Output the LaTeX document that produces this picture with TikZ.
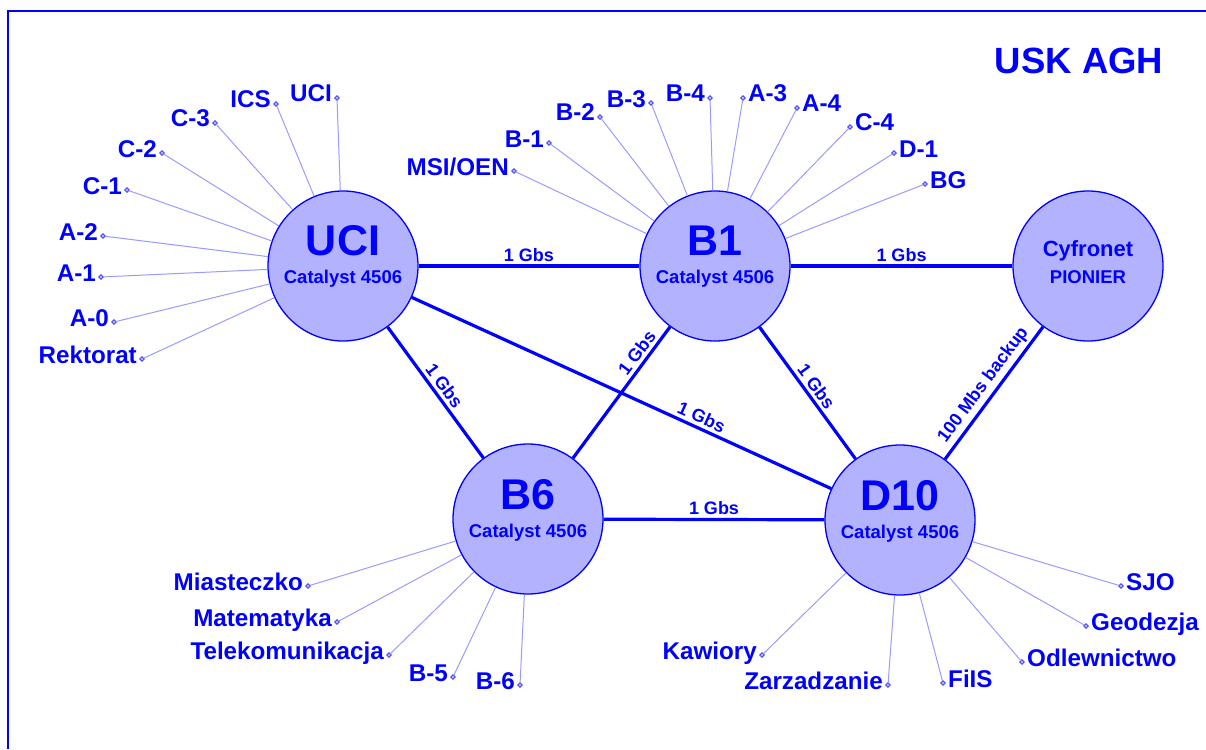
\documentclass[tikz,border=0pt]{standalone}
\usepackage{fontspec}
\setmainfont{Liberation Sans}
\usetikzlibrary{shapes.geometric}
\definecolor{ublue}{RGB}{0,0,255}
\definecolor{ufill}{RGB}{178,178,255}
\definecolor{uspoke}{RGB}{155,155,255}
\newcommand\spkL[5]{%
  \node[pin] (p#1) at (#2,#3) {};
  \node[lab,anchor=base east] (t#1) at ([xshift=-5pt,yshift=-4pt]p#1.center) {#4};
  \draw[spoke] (p#1) -- (#5);}
\newcommand\spkR[5]{%
  \node[pin] (p#1) at (#2,#3) {};
  \node[lab,anchor=base west] (t#1) at ([xshift=5pt,yshift=-4pt]p#1.center) {#4};
  \draw[spoke] (p#1) -- (#5);}
\begin{document}
\begin{tikzpicture}[x=1pt,y=-1pt,
  hub/.style={circle, draw=ublue, line width=1.3pt, fill=ufill, minimum size=150pt, inner sep=0pt},
  link/.style={draw=ublue, line width=3.2pt},
  spoke/.style={draw=uspoke, line width=1pt},
  pin/.style={diamond, draw=ublue!80, fill=ufill, line width=0.6pt, minimum size=5pt, inner sep=0pt},
  lab/.style={text=ublue, font=\fontsize{24.2}{25}\selectfont\bfseries, inner sep=0pt},
  big/.style={text=ublue, font=\fontsize{43}{43}\selectfont\bfseries, inner sep=0pt, anchor=base},
  cat/.style={text=ublue, font=\fontsize{18.5}{19}\selectfont\bfseries, inner sep=0pt, anchor=base},
  gl/.style={text=ublue, font=\fontsize{18}{18}\selectfont\bfseries, inner sep=3pt}
]
\useasboundingbox (0,0) rectangle (1206,749);
\fill[white] (0,0) rectangle (1206,749);
\draw[ublue, line width=1.5pt] (8,749) -- (8,11) -- (1206,11);

\node[text=ublue, font=\fontsize{36.5}{37}\selectfont\bfseries, inner sep=0pt, anchor=base] (title) at (1079,74) {USK AGH};

% hubs
\node[hub] (UCI) at (343,266) {};
\node[hub] (B1) at (715,266) {};
\node[hub] (CYF) at (1088,266) {};
\node[hub] (B6) at (528,519) {};
\node[hub] (D10) at (900,520) {};

\node[big] (UCIt) at ([yshift=11pt]UCI.center) {UCI};
\node[cat] (UCIc) at ([yshift=-17pt]UCI.center) {Catalyst 4506};
\node[big] (B1t) at ([yshift=11pt]B1.center) {B1};
\node[cat] (B1c) at ([yshift=-17pt]B1.center) {Catalyst 4506};
\node[big] (B6t) at ([yshift=10pt]B6.center) {B6};
\node[cat] (B6c) at ([yshift=-18pt]B6.center) {Catalyst 4506};
\node[big] (D10t) at ([yshift=10pt]D10.center) {D10};
\node[cat] (D10c) at ([yshift=-18pt]D10.center) {Catalyst 4506};
\node[text=ublue, font=\fontsize{22}{22}\selectfont\bfseries, inner sep=0pt, anchor=base] (CYFt) at ([yshift=10pt]CYF.center) {Cyfronet};
\node[cat] (CYFc) at ([yshift=-17pt]CYF.center) {PIONIER};

% links
\draw[link] (UCI) -- node[gl, above] (l1) {1 Gbs} (B1);
\draw[link] (B1) -- node[gl, above] (l2) {1 Gbs} (CYF);
\draw[link] (B6) -- node[gl, above] (l3) {1 Gbs} (D10);
\draw[link] (UCI) -- node[gl, sloped, above] (l4) {1 Gbs} (B6);
\draw[link] (B6) -- node[gl, sloped, above, pos=0.75] (l5) {1 Gbs} (B1);
\draw[link] (UCI) -- node[gl, sloped, above, pos=0.68] (l6) {1 Gbs} (D10);
\draw[link] (B1) -- node[gl, sloped, above] (l7) {1 Gbs} (D10);
\draw[link] (D10) -- node[gl, sloped, above] (l8) {100 Mbs backup} (CYF);

% UCI spokes
\spkL{uci}{337}{98}{UCI}{UCI}
\spkL{ics}{276}{104}{ICS}{UCI}
\spkL{cc3}{215}{123}{C-3}{UCI}
\spkL{cc2}{162}{153}{C-2}{UCI}
\spkL{cc1}{127}{190}{C-1}{UCI}
\spkL{aa2}{103}{236}{A-2}{UCI}
\spkL{aa1}{101}{277}{A-1}{UCI}
\spkL{aa0}{114}{322}{A-0}{UCI}
\spkL{rek}{142}{359}{Rektorat}{UCI}

% B1 spokes
\spkL{msi}{514}{171}{MSI/OEN}{B1}
\spkL{bb1}{549}{143}{B-1}{B1}
\spkL{bb2}{600}{117}{B-2}{B1}
\spkL{bb3}{651}{103}{B-3}{B1}
\spkL{bb4}{710}{98}{B-4}{B1}
\spkR{aa3}{743}{98}{A-3}{B1}
\spkR{aa4}{797}{108}{A-4}{B1}
\spkR{cc4}{850}{127}{C-4}{B1}
\spkR{dd1}{894}{153}{D-1}{B1}
\spkR{bg}{925}{184}{BG}{B1}

% B6 spokes
\spkL{mia}{308}{586}{Miasteczko}{B6}
\spkL{mat}{337}{622}{Matematyka}{B6}
\spkL{tel}{389}{655}{Telekomunikacja}{B6}
\spkL{bb5}{453}{677}{B-5}{B6}
\spkL{bb6}{520}{685}{B-6}{B6}

% D10 spokes
\spkL{kaw}{762}{655}{Kawiory}{D10}
\spkL{zar}{888}{685}{Zarzadzanie}{D10}
\spkR{fis}{943}{683}{FiIS}{D10}
\spkR{odl}{1022}{662}{Odlewnictwo}{D10}
\spkR{geo}{1086}{626}{Geodezja}{D10}
\spkR{sjo}{1121}{586}{SJO}{D10}
\end{tikzpicture}
\end{document}
